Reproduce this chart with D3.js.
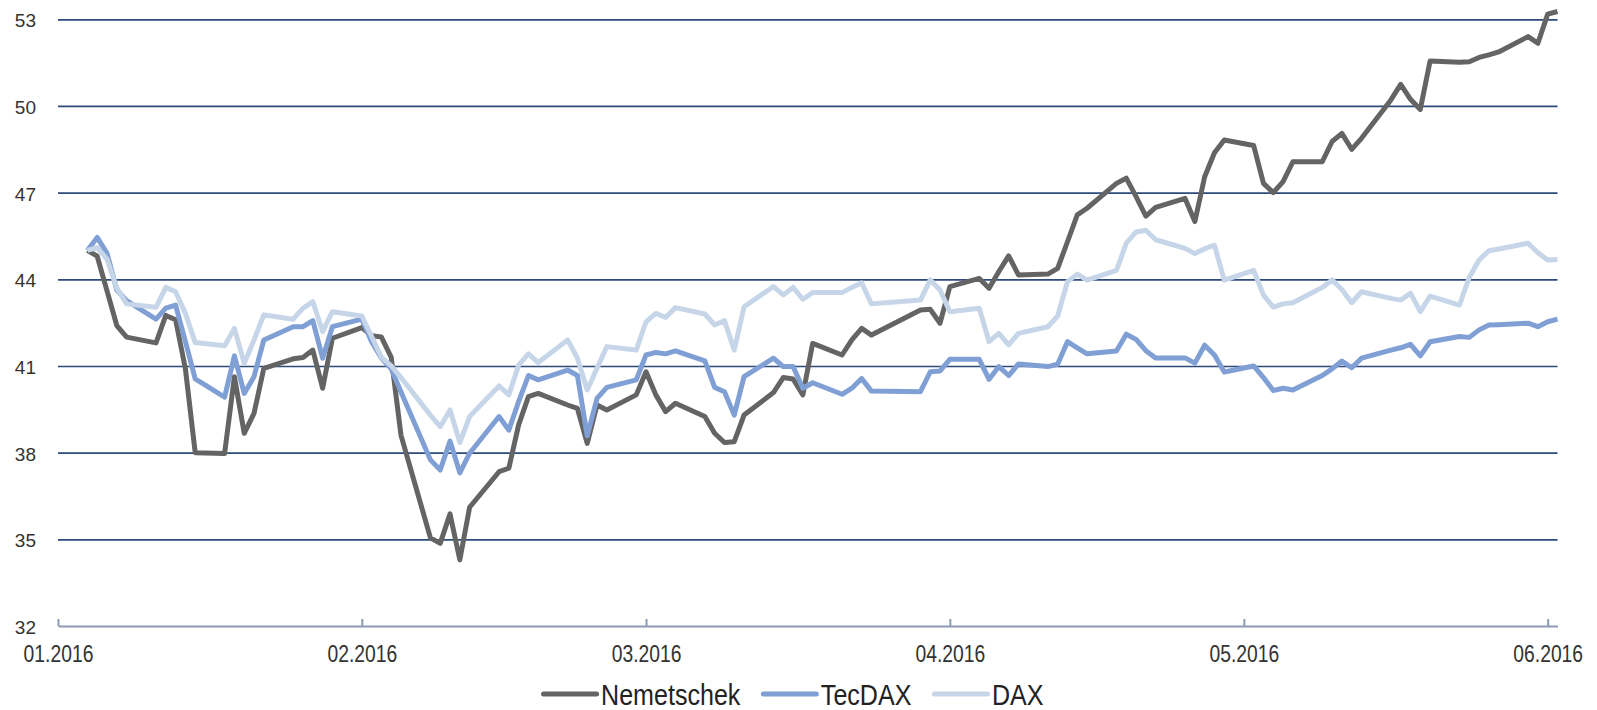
<!DOCTYPE html>
<html lang="de">
<head>
<meta charset="UTF-8">
<title>Nemetschek vs. TecDAX vs. DAX</title>
<script src="https://d3js.org/d3.v7.min.js"></script>
<style>
  body { margin: 0; background: #fff; }
  svg { display: block; font-family: "Liberation Sans", Arial, sans-serif; }
</style>
</head>
<body>
<svg width="1597" height="710"></svg>
<script>
// Handelstage Jan - Jun 2016
const tradingDays = [
  "2016-01-04","2016-01-05","2016-01-06","2016-01-07","2016-01-08","2016-01-11","2016-01-12","2016-01-13","2016-01-14","2016-01-15",
  "2016-01-18","2016-01-19","2016-01-20","2016-01-21","2016-01-22","2016-01-25","2016-01-26","2016-01-27","2016-01-28","2016-01-29",
  "2016-02-01","2016-02-02","2016-02-03","2016-02-04","2016-02-05","2016-02-08","2016-02-09","2016-02-10","2016-02-11","2016-02-12",
  "2016-02-15","2016-02-16","2016-02-17","2016-02-18","2016-02-19","2016-02-22","2016-02-23","2016-02-24","2016-02-25","2016-02-26","2016-02-29",
  "2016-03-01","2016-03-02","2016-03-03","2016-03-04","2016-03-07","2016-03-08","2016-03-09","2016-03-10","2016-03-11","2016-03-14",
  "2016-03-15","2016-03-16","2016-03-17","2016-03-18","2016-03-21","2016-03-22","2016-03-23","2016-03-24","2016-03-29","2016-03-30","2016-03-31",
  "2016-04-01","2016-04-04","2016-04-05","2016-04-06","2016-04-07","2016-04-08","2016-04-11","2016-04-12","2016-04-13","2016-04-14",
  "2016-04-15","2016-04-18","2016-04-19","2016-04-20","2016-04-21","2016-04-22","2016-04-25","2016-04-26","2016-04-27","2016-04-28","2016-04-29",
  "2016-05-02","2016-05-03","2016-05-04","2016-05-05","2016-05-06","2016-05-09","2016-05-10","2016-05-11","2016-05-12","2016-05-13",
  "2016-05-16","2016-05-17","2016-05-18","2016-05-19","2016-05-20","2016-05-23","2016-05-24","2016-05-25","2016-05-26","2016-05-27",
  "2016-05-30","2016-05-31","2016-06-01","2016-06-02"
];

const nemetschek = [
  45.0, 44.8, 43.6, 42.4, 42.0, 41.8, 42.75, 42.6, 40.9, 38.0, 37.97, 40.63, 38.67, 39.36, 40.92, 41.25, 41.29, 41.55, 40.23, 41.96,
  42.33, 42.05, 42.0, 41.3, 38.6, 35.05, 34.86, 35.88, 34.29, 36.11, 37.34, 37.46, 38.96, 39.94, 40.05, 39.65, 39.53, 38.32, 39.65, 39.48, 40.0,
  40.8, 40.0, 39.42, 39.71, 39.25, 38.67, 38.35, 38.38, 39.3, 40.08, 40.6, 40.55, 40.0, 41.78, 41.38, 41.9, 42.3, 42.07, 42.94, 42.96, 42.48,
  43.75, 44.03, 43.69, 44.27, 44.81, 44.15, 44.18, 44.38, 45.3, 46.23, 46.46, 47.32, 47.5, 46.86, 46.19, 46.49, 46.8, 46.0, 47.55, 48.38, 48.82,
  48.63, 47.32, 47.0, 47.38, 48.07, 48.07, 48.77, 49.05, 48.5, 48.88, 50.21, 50.75, 50.23, 49.88, 51.56, 51.51, 51.53, 51.68, 51.77, 51.87, 52.4, 52.17,
  53.18, 53.27
];

const tecdax = [
  45.0, 45.45, 44.9, 43.63, 43.26, 42.62, 43.0, 43.11, 41.84, 40.55, 39.92, 41.35, 40.05, 40.63, 41.9, 42.36, 42.36, 42.57, 41.27, 42.36,
  42.62, 41.84, 41.27, 40.9, 40.1, 37.75, 37.4, 38.4, 37.3, 37.98, 39.25, 38.78, 39.77, 40.67, 40.52, 40.86, 40.67, 38.58, 39.88, 40.26, 40.52,
  41.38, 41.47, 41.42, 41.52, 41.18, 40.26, 40.11, 39.3, 40.63, 41.27, 40.98, 40.98, 40.23, 40.42, 40.02, 40.23, 40.57, 40.13, 40.11, 40.8, 40.83,
  41.23, 41.23, 40.54, 40.98, 40.67, 41.07, 40.98, 41.06, 41.84, 41.63, 41.42, 41.52, 42.1, 41.92, 41.53, 41.28, 41.28, 41.1, 41.72, 41.38, 40.79,
  41.0, 40.6, 40.15, 40.23, 40.17, 40.67, 40.9, 41.17, 40.94, 41.27, 41.55, 41.63, 41.75, 41.35, 41.84, 42.02, 41.99, 42.25, 42.42, 42.43, 42.48, 42.36,
  42.53, 42.62
];

const dax = [
  45.0, 45.1, 44.7, 43.7, 43.15, 43.03, 43.72, 43.57, 42.82, 41.81, 41.7, 42.3, 41.09, 41.9, 42.77, 42.62, 43.0, 43.23, 42.19, 42.88,
  42.73, 42.02, 41.3, 41.0, 40.6, 39.3, 38.9, 39.48, 38.35, 39.25, 40.31, 40.0, 41.03, 41.42, 41.12, 41.9, 41.27, 40.17, 40.92, 41.67, 41.55,
  42.53, 42.82, 42.68, 43.02, 42.8, 42.42, 42.57, 41.55, 43.05, 43.75, 43.46, 43.72, 43.31, 43.54, 43.54, 43.72, 43.88, 43.15, 43.28, 43.98, 43.63,
  42.88, 43.0, 41.84, 42.13, 41.73, 42.13, 42.36, 42.73, 43.92, 44.18, 43.97, 44.31, 45.25, 45.64, 45.7, 45.37, 45.07, 44.89, 45.06, 45.18, 43.97,
  44.31, 43.45, 43.04, 43.15, 43.19, 43.72, 43.98, 43.65, 43.19, 43.57, 43.34, 43.28, 43.52, 42.88, 43.42, 43.11, 44.07, 44.67, 44.99, 45.05, 45.25, 44.92,
  44.67, 44.69
];

const seriesNames = ["Nemetschek", "TecDAX", "DAX"];
const seriesColors = ["#646464", "#7f9fd5", "#c6d6e8"];
const yTicks = [32, 35, 38, 41, 44, 47, 50, 53];
const monthTicks = ["2016-01-01","2016-02-01","2016-03-01","2016-04-01","2016-05-01","2016-06-01"];

const parse = d3.utcParse("%Y-%m-%d");
const dates = tradingDays.map(parse);

const svg = d3.select("svg");
const plotLeft = 58, plotRight = 1557.5, plotTop = 19.3, plotBottom = 626;
const narrow = "scale(0.84,1)"; // schmale Schrift nachbilden

const x = d3.scaleUtc()
    .domain([parse("2016-01-01"), parse("2016-06-02")])
    .range([plotLeft, plotRight]);

const y = d3.scaleLinear()
    .domain([32, 53])
    .range([plotBottom, plotTop]);

// Gitterlinien + Y-Beschriftung
const yAxis = svg.append("g")
    .attr("transform", `translate(${plotLeft},0)`)
    .call(d3.axisLeft(y).tickValues(yTicks).tickSize(-(plotRight - plotLeft)).tickPadding(22));
yAxis.select(".domain").remove();
yAxis.selectAll(".tick line")
    .attr("stroke", "#2c4a7a")
    .attr("stroke-width", 1.7)
    .filter(d => d === 32).remove();
yAxis.selectAll(".tick text")
    .attr("fill", "#333")
    .attr("dy", "0.39em")
    .style("font-size", "19px");

// X-Achse
const xAxis = svg.append("g")
    .attr("transform", `translate(0,${plotBottom})`)
    .call(d3.axisBottom(x)
        .tickValues(monthTicks.map(parse))
        .tickFormat(d3.utcFormat("%m.%Y"))
        .tickSizeInner(-7)
        .tickSizeOuter(0)
        .tickPadding(20));
xAxis.select(".domain").attr("stroke", "#8c9ab4").attr("stroke-width", 2);
xAxis.selectAll(".tick line").attr("stroke", "#8c9ab4").attr("stroke-width", 2);
xAxis.selectAll(".tick text")
    .attr("fill", "#333")
    .attr("transform", narrow)
    .style("font-size", "23px");

// Linien
const line = d3.line()
    .x((d, i) => x(dates[i]))
    .y(d => y(d));

[nemetschek, tecdax, dax].forEach((vals, i) => {
  svg.append("path")
      .datum(vals)
      .attr("fill", "none")
      .attr("stroke", seriesColors[i])
      .attr("stroke-width", 5)
      .attr("stroke-linejoin", "round")
      .attr("d", line);
});

// Legende
const legend = svg.append("g");
let lx = 0;
seriesNames.forEach((name, i) => {
  const g = legend.append("g").attr("transform", `translate(${lx},0)`);
  g.append("line")
      .attr("x1", 2).attr("x2", 55).attr("y1", 0).attr("y2", 0)
      .attr("stroke", seriesColors[i])
      .attr("stroke-width", 5)
      .attr("stroke-linecap", "round");
  const t = g.append("g")
      .attr("transform", "translate(59.5,0) scale(0.85,1)")
    .append("text")
      .attr("y", 10.5)
      .attr("fill", "#222")
      .style("font-size", "29.5px")
      .text(name);
  lx += 59.5 + t.node().getComputedTextLength() * 0.85 + 21;
});
const legendWidth = lx - 21;
legend.attr("transform", `translate(${792.5 - legendWidth / 2},694)`);
</script>
</body>
</html>
